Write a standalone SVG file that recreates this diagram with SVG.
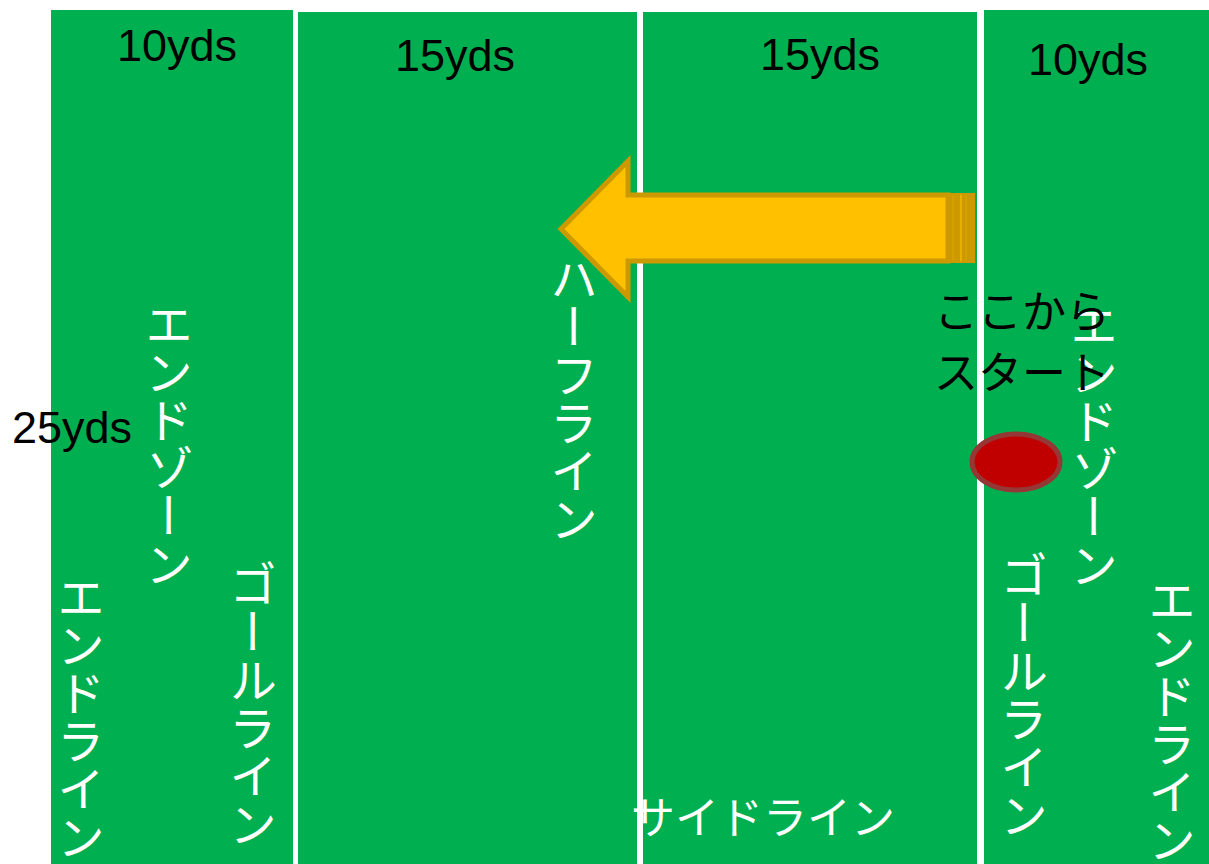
<svg xmlns="http://www.w3.org/2000/svg" width="1209" height="864" viewBox="0 0 1209 864">
<style>
.field{fill:#00B050}
.yds{font-family:"Liberation Sans",Arial,sans-serif;font-size:45px;fill:#000}
.vt{font-family:"Noto Sans CJK JP","Noto Sans",sans-serif;font-size:48px;fill:#fff;writing-mode:vertical-rl;text-orientation:upright}
.ht{font-family:"Noto Sans CJK JP","Noto Sans",sans-serif;font-size:44px}
</style>
<rect width="1209" height="864" fill="#fff"/>
<g id="zone-left"><rect class="field" x="51" y="10" width="242" height="854"/></g>
<g id="field-left"><rect class="field" x="298" y="12" width="339" height="852"/></g>
<g id="field-right"><rect class="field" x="643" y="12" width="334" height="852"/></g>
<g id="zone-right"><rect class="field" x="984" y="10" width="225" height="854"/></g>

<g id="labels-yds">
<text class="yds" x="117" y="61">10yds</text>
<text class="yds" x="395" y="71">15yds</text>
<text class="yds" x="760" y="70">15yds</text>
<text class="yds" x="1028" y="75">10yds</text>
<text class="yds" x="12" y="443">25yds</text>
</g>

<g id="labels-lines">
<text class="vt" x="169" y="300">エンドゾーン</text>
<text class="vt" x="81" y="573">エンドライン</text>
<text class="vt" x="253" y="560">ゴールライン</text>
<text class="vt" x="574" y="255">ハーフライン</text>
<text class="vt" x="1094" y="301">エンドゾーン</text>
<text class="vt" x="1024" y="551">ゴールライン</text>
<text class="vt" x="1172" y="576">エンドライン</text>
<text class="ht" x="631" y="834" fill="#fff">サイドライン</text>
</g>

<g id="start-marker">
<ellipse cx="1016" cy="462" rx="44" ry="28" fill="#C00000" stroke="#953735" stroke-width="5"/>
</g>
<g id="start-label">
<text class="ht" x="934" y="328" fill="#000">ここから</text>
<text class="ht" x="934" y="389" fill="#000">スタート</text>
</g>

<g id="connectors">
<polygon points="948,195 628,195 628,161 561,229 628,297 628,261 948,261" fill="#FFC000" stroke="#CC9A00" stroke-width="5" stroke-linejoin="miter"/>
<rect x="947" y="193" width="28" height="70" fill="#CC9A00"/>
<line x1="961" y1="195" x2="961" y2="261" stroke="#F2B800" stroke-width="1.5"/>
<line x1="953" y1="195" x2="953" y2="261" stroke="#D9A600" stroke-width="1"/>
<line x1="966" y1="195" x2="966" y2="261" stroke="#D9A600" stroke-width="1"/>
</g>
</svg>
